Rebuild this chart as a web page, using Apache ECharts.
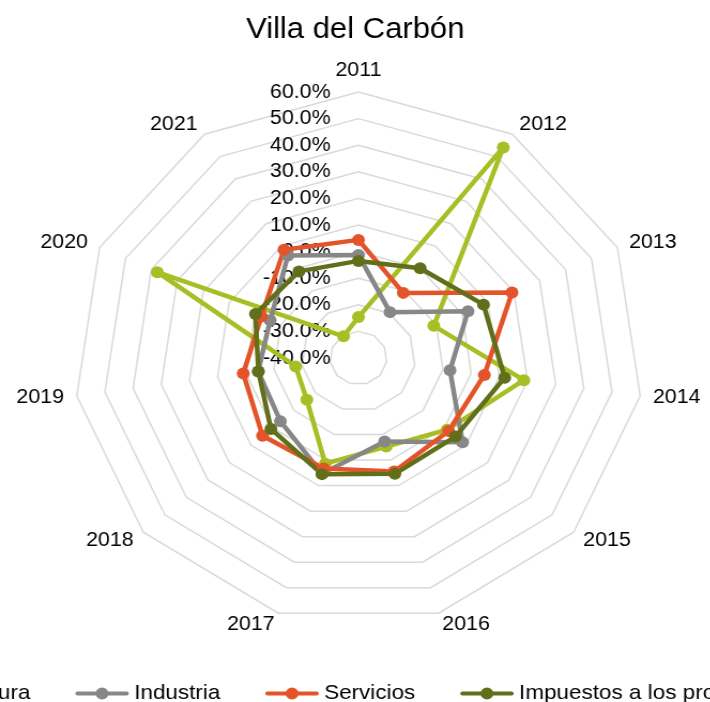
<!DOCTYPE html>
<html>
<head>
<meta charset="utf-8">
<title>Villa del Carbón</title>
<script src="https://cdn.jsdelivr.net/npm/echarts@6/dist/echarts.min.js"></script>
<style>
    html, body { margin: 0; padding: 0; background: #fff; overflow: hidden; }
    /* the original picture is a bit wider than tall, so stretch it the same way */
    #chart { width: 664px; height: 702px; transform: scaleX(1.07); transform-origin: 0 0; }
</style>
</head>
<body>
<div id="chart"></div>
<script>
var years = ['2011', '2012', '2013', '2014', '2015', '2016', '2017', '2018', '2019', '2020', '2021'];
var seriesNames = ['Agricultura', 'Industria', 'Servicios', 'Impuestos a los productos netos'];
var agricultura = [-24.6, 54.1, -10.9, 18.7, 1.2, -5.3, 1.4, -16.0, -17.7, 37.7, -30.3];
var industria = [-1.3, -19.5, 2.3, -7.5, 8.4, -7.3, 5.3, -3.7, -4.4, -5.9, 5.8];
var servicios = [4.4, -10.9, 19.3, 4.7, 1.9, 4.5, 3.3, 4.6, 0.9, -2.5, 8.4];
var impuestos = [-3.5, 0.1, 8.3, 11.9, 5.1, 5.4, 5.5, 0.7, -4.5, -0.2, -1.3];
var axisMin = -40;
var axisMax = 60;

var colors = ['#a7bf24', '#878787', '#e3542a', '#616f1a'];
var font = 'Liberation Sans, Arial, sans-serif';

var myChart = echarts.init(document.getElementById('chart'));

// radar goes counter-clockwise, the excel one clockwise: 2011 first then the rest backwards
var order = [0];
for (var k = years.length - 1; k > 0; k--) order.push(k);

var indicators = order.map(function (idx, i) {
    var ind = { name: years[idx], min: axisMin, max: axisMax };
    // only the 2011 spoke carries the percent labels
    if (i == 0) {
        ind.axisLabel = { show: true };
    }
    return ind;
});

var allData = [agricultura, industria, servicios, impuestos];

// legend icon: thick line with a dot in the middle (box is 50x12)
var lineDotIcon = 'path://M2,4 L48,4 A2,2 0 0 1 48,8 L2,8 A2,2 0 0 1 2,4 Z M25,0 A6,6 0 1 1 25,12 A6,6 0 1 1 25,0 Z';

var option = {
    color: colors,
    animation: false,
    title: {
        text: 'Villa del Carbón',
        left: 'center',
        top: 10,
        textStyle: { fontFamily: font, fontSize: 29, fontWeight: 'normal', color: '#000' }
    },
    legend: {
        data: seriesNames.map(function (n) { return { name: n, icon: lineDotIcon }; }),
        left: -132,
        top: 678,
        width: 1400,
        itemWidth: 50,
        itemHeight: 12,
        itemGap: 42,
        textStyle: { fontFamily: font, fontSize: 21, color: '#000' }
    },
    radar: {
        center: [335, 358],
        radius: 266,
        shape: 'polygon',
        splitNumber: 10,
        startAngle: 90,
        indicator: indicators,
        axisName: { color: '#000', fontFamily: font, fontSize: 20 },
        nameGap: 12,
        axisLine: { show: false },
        axisTick: { show: false },
        axisLabel: {
            show: false,
            margin: 26,
            color: '#000',
            fontFamily: font,
            fontSize: 20,
            formatter: function (v) { return v.toFixed(1) + '%'; }
        },
        splitLine: { lineStyle: { color: '#d9d9d9', width: 1.5 } },
        splitArea: { show: false }
    },
    series: [{
        type: 'radar',
        symbol: 'circle',
        symbolSize: 12,
        lineStyle: { width: 4.5 },
        data: allData.map(function (vals, i) {
            return {
                name: seriesNames[i],
                value: order.map(function (idx) { return vals[idx]; })
            };
        })
    }]
};
myChart.setOption(option);
</script>
</body>
</html>
